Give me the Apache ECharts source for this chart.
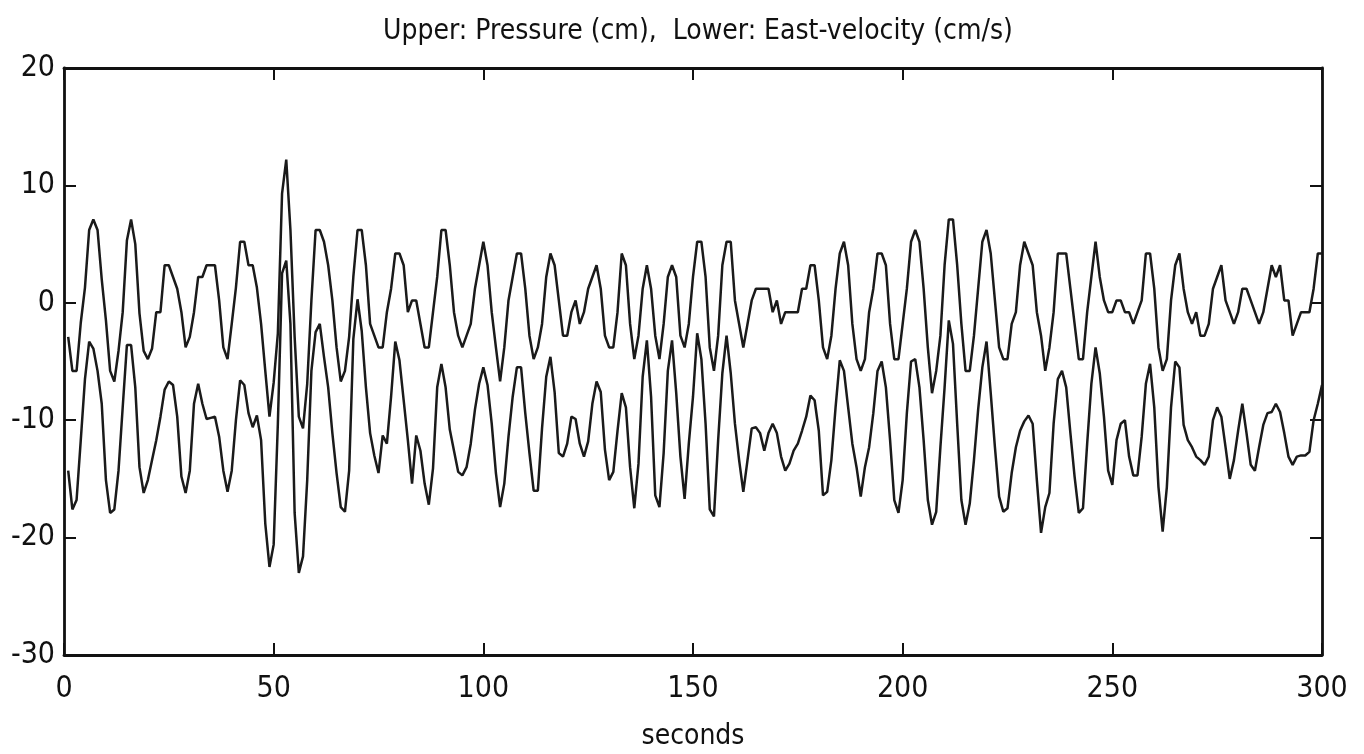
<!DOCTYPE html>
<html>
<head>
<meta charset="utf-8">
<script src="https://cdn.jsdelivr.net/npm/echarts@6/dist/echarts.min.js"></script>
<style>
  html, body { margin: 0; padding: 0; background: #fff; }
  #chart { width: 1364px; height: 754px; }
</style>
</head>
<body>
<div id="chart"></div>
<script>
// one sample per second, starting at t = 1 s
const pressure = [
  -2.9, -5.8, -5.8, -1.7, 1.3, 6.2, 7.1, 6.2, 2.0, -1.5,
  -5.8, -6.7, -4.1, -0.8, 5.3, 7.1, 5.0, -0.9, -4.1, -4.8,
  -3.9, -0.8, -0.8, 3.2, 3.2, 2.2, 1.2, -0.8, -3.8, -2.9,
  -0.8, 2.2, 2.2, 3.2, 3.2, 3.2, 0.2, -3.8, -4.8, -1.8,
  1.3, 5.2, 5.2, 3.2, 3.2, 1.3, -1.8, -5.8, -9.7, -6.8,
  -2.6, 9.3, 12.2, 6.2, -2.9, -9.7, -10.7, -6.9, 0.2, 6.2,
  6.2, 5.2, 3.2, 0.2, -3.8, -6.7, -5.8, -2.9, 2.2, 6.2,
  6.2, 3.2, -1.8, -2.8, -3.8, -3.8, -0.8, 1.2, 4.2, 4.2,
  3.2, -0.8, 0.2, 0.2, -1.8, -3.8, -3.8, -0.8, 2.2, 6.2,
  6.2, 3.2, -0.8, -2.8, -3.8, -2.8, -1.8, 1.2, 3.2, 5.2,
  3.2, -0.8, -3.8, -6.7, -3.8, 0.2, 2.2, 4.2, 4.2, 1.2,
  -2.8, -4.8, -3.8, -1.8, 2.2, 4.2, 3.2, 0.2, -2.8, -2.8,
  -0.8, 0.2, -1.8, -0.8, 1.2, 2.2, 3.2, 1.2, -2.8, -3.8,
  -3.8, -0.8, 4.2, 3.2, -1.8, -4.8, -2.8, 1.2, 3.2, 1.2,
  -2.8, -4.8, -1.8, 2.2, 3.2, 2.2, -2.8, -3.8, -1.8, 2.2,
  5.2, 5.2, 2.2, -3.8, -5.8, -2.8, 3.2, 5.2, 5.2, 0.2,
  -1.8, -3.8, -1.8, 0.2, 1.2, 1.2, 1.2, 1.2, -0.8, 0.2,
  -1.8, -0.8, -0.8, -0.8, -0.8, 1.2, 1.2, 3.2, 3.2, 0.2,
  -3.8, -4.8, -2.8, 1.2, 4.2, 5.2, 3.2, -1.8, -4.8, -5.8,
  -4.8, -0.8, 1.2, 4.2, 4.2, 3.2, -1.8, -4.8, -4.8, -1.8,
  1.2, 5.2, 6.2, 5.2, 1.2, -3.8, -7.7, -5.8, -2.8, 3.2,
  7.1, 7.1, 3.2, -1.8, -5.8, -5.8, -2.8, 1.2, 5.2, 6.2,
  4.2, 0.2, -3.8, -4.8, -4.8, -1.8, -0.8, 3.2, 5.2, 4.2,
  3.2, -0.8, -2.8, -5.8, -3.8, -0.8, 4.2, 4.2, 4.2, 1.2,
  -1.8, -4.8, -4.8, -0.8, 2.2, 5.2, 2.2, 0.2, -0.8, -0.8,
  0.2, 0.2, -0.8, -0.8, -1.8, -0.8, 0.2, 4.2, 4.2, 1.2,
  -3.8, -5.8, -4.8, 0.2, 3.2, 4.2, 1.2, -0.8, -1.8, -0.8,
  -2.8, -2.8, -1.8, 1.2, 2.2, 3.2, 0.2, -0.8, -1.8, -0.8,
  1.2, 1.2, 0.2, -0.8, -1.8, -0.8, 1.2, 3.2, 2.2, 3.2,
  0.2, 0.2, -2.8, -1.8, -0.8, -0.8, -0.8, 1.2, 4.2, 4.2
];

const eastVelocity = [
  -14.3, -17.6, -16.8, -11.7, -6.5, -3.3, -3.9, -5.8, -8.6, -15.1,
  -17.9, -17.6, -14.3, -8.9, -3.6, -3.6, -7.2, -14.0, -16.2, -15.1,
  -13.4, -11.7, -9.7, -7.4, -6.7, -7.0, -9.7, -14.8, -16.2, -14.3,
  -8.6, -6.9, -8.6, -9.9, -9.8, -9.7, -11.4, -14.3, -16.1, -14.3,
  -10.0, -6.6, -7.0, -9.4, -10.6, -9.6, -11.7, -18.8, -22.5, -20.6,
  -10.3, 2.5, 3.6, -1.8, -17.9, -23.0, -21.6, -15.1, -5.8, -2.5,
  -1.8, -4.6, -7.2, -11.1, -14.5, -17.4, -17.8, -14.3, -3.1, 0.3,
  -2.4, -7.2, -11.1, -13.0, -14.5, -11.3, -12.0, -8.0, -3.3, -4.9,
  -8.3, -11.7, -15.4, -11.3, -12.6, -15.4, -17.2, -14.1, -7.2, -5.2,
  -7.2, -10.8, -12.6, -14.4, -14.7, -14.0, -12.0, -9.1, -6.9, -5.5,
  -7.0, -10.3, -14.5, -17.4, -15.4, -11.4, -8.0, -5.5, -5.5, -9.4,
  -12.8, -16.0, -16.0, -10.7, -6.3, -4.6, -7.6, -12.8, -13.1, -12.0,
  -9.7, -9.9, -12.0, -13.1, -11.8, -8.6, -6.7, -7.6, -12.5, -15.1,
  -14.4, -10.9, -7.7, -8.9, -14.0, -17.5, -13.7, -6.3, -3.2, -8.0,
  -16.4, -17.4, -12.8, -5.8, -3.2, -7.7, -13.1, -16.7, -12.0, -8.0,
  -2.6, -4.8, -10.3, -17.6, -18.2, -11.7, -6.0, -2.8, -6.0, -10.3,
  -13.4, -16.1, -13.4, -10.7, -10.6, -11.1, -12.6, -11.1, -10.3, -11.1,
  -13.1, -14.3, -13.7, -12.6, -12.0, -10.9, -9.7, -7.9, -8.3, -10.9,
  -16.4, -16.1, -13.4, -8.9, -4.9, -5.8, -8.9, -12.0, -14.0, -16.5,
  -14.0, -12.3, -9.4, -5.8, -5.0, -7.2, -11.7, -16.8, -17.9, -15.1,
  -9.4, -5.0, -4.8, -7.2, -11.7, -16.8, -18.9, -17.8, -12.3, -7.2,
  -1.5, -3.5, -10.3, -16.8, -18.9, -17.1, -13.4, -9.1, -5.5, -3.3,
  -7.7, -12.3, -16.5, -17.8, -17.5, -14.5, -12.3, -10.9, -10.1, -9.6,
  -10.3, -15.1, -19.6, -17.4, -16.2, -10.3, -6.5, -5.8, -7.2, -11.1,
  -14.8, -17.9, -17.5, -12.0, -6.9, -3.8, -6.0, -9.7, -14.3, -15.5,
  -11.7, -10.3, -10.0, -13.1, -14.7, -14.7, -11.4, -6.9, -5.2, -8.9,
  -15.7, -19.5, -15.7, -8.9, -5.0, -5.5, -10.4, -11.7, -12.3, -13.1,
  -13.4, -13.8, -13.1, -10.0, -8.9, -9.7, -12.3, -15.0, -13.4, -10.9,
  -8.6, -11.1, -13.8, -14.3, -12.3, -10.4, -9.4, -9.3, -8.6, -9.3,
  -11.1, -13.1, -13.8, -13.1, -13.0, -13.0, -12.7, -10.0, -8.6, -7.0
];

const xTicks = [0, 50, 100, 150, 200, 250, 300];
const yTicks = [-30, -20, -10, 0, 10, 20];

const FONT = '"DejaVu Sans Condensed", "Liberation Sans Narrow", "Liberation Sans", sans-serif';
const INK = "#111";

const toPairs = (arr) => arr.map((v, i) => [i + 1, v]);

const chart = echarts.init(document.getElementById("chart"));

const frameAxis = {
  axisLine: { show: true, onZero: false, lineStyle: { color: INK, width: 2.8 } },
  axisTick: { show: true, inside: true, length: 12, lineStyle: { color: INK, width: 2 } },
  splitLine: { show: false },
};

chart.setOption({
  animation: false,
  backgroundColor: "#fff",
  title: {
    text: "Upper: Pressure (cm),  Lower: East-velocity (cm/s)",
    left: 378,
    top: 13,
    textStyle: { fontFamily: FONT, fontSize: 28, fontWeight: "normal", color: INK },
  },
  grid: {
    left: 64, top: 68, width: 1258, height: 587,
    containLabel: false,
    outerBoundsMode: "none",
  },
  xAxis: [
    {
      type: "value",
      min: xTicks[0],
      max: xTicks[xTicks.length - 1],
      interval: 50,
      name: "seconds",
      nameLocation: "middle",
      nameGap: 68,
      nameTextStyle: { fontFamily: FONT, fontSize: 28, color: INK },
      axisLabel: { fontFamily: FONT, fontSize: 30, color: INK, margin: 19 },
      ...frameAxis,
    },
    {
      type: "value",
      position: "top",
      min: xTicks[0],
      max: xTicks[xTicks.length - 1],
      interval: 50,
      axisLabel: { show: false },
      ...frameAxis,
    },
  ],
  yAxis: [
    {
      type: "value",
      min: yTicks[0],
      max: yTicks[yTicks.length - 1],
      interval: 10,
      axisLabel: { fontFamily: FONT, fontSize: 30, color: INK, margin: 9 },
      ...frameAxis,
    },
    {
      type: "value",
      position: "right",
      min: yTicks[0],
      max: yTicks[yTicks.length - 1],
      interval: 10,
      axisLabel: { show: false },
      ...frameAxis,
    },
  ],
  series: [
    {
      name: "Pressure",
      type: "line",
      data: toPairs(pressure),
      symbol: "none",
      lineStyle: { color: "#1a1a1a", width: 2.5 },
    },
    {
      name: "East-velocity",
      type: "line",
      data: toPairs(eastVelocity),
      symbol: "none",
      lineStyle: { color: "#1a1a1a", width: 2.5 },
    },
  ],
});
</script>
</body>
</html>
